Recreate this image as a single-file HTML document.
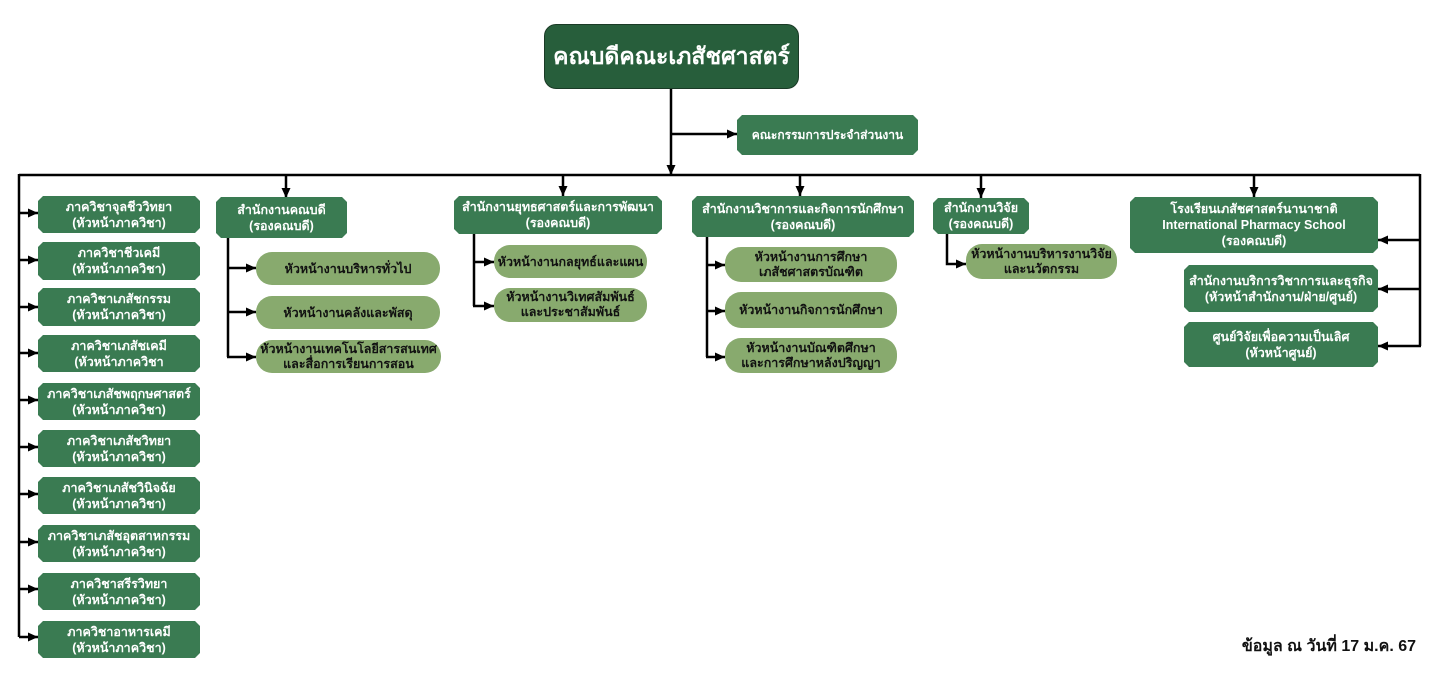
<!DOCTYPE html>
<html>
<head>
<meta charset="utf-8">
<style>
  html,body{margin:0;padding:0;background:#fff;}
  body{width:1440px;height:678px;position:relative;overflow:hidden;font-family:"Liberation Sans","DejaVu Sans",sans-serif;}
  .b{position:absolute;display:flex;align-items:center;justify-content:center;text-align:center;color:#fff;font-weight:bold;font-size:12.5px;line-height:16px;box-sizing:border-box;
     background:#3a7b52;
     clip-path:polygon(5px 0,calc(100% - 5px) 0,100% 5px,100% calc(100% - 5px),calc(100% - 5px) 100%,5px 100%,0 calc(100% - 5px),0 5px);}
  .p{position:absolute;display:flex;align-items:center;justify-content:center;text-align:center;color:#111;font-weight:bold;font-size:12.5px;line-height:16px;box-sizing:border-box;background:#88aa6e;border-radius:16px;}
  svg{position:absolute;left:0;top:0;}
</style>
</head>
<body>
<svg width="1440" height="678" viewBox="0 0 1440 678">
  <defs>
    <marker id="a" markerUnits="userSpaceOnUse" markerWidth="11" markerHeight="11" refX="10" refY="5.5" orient="auto">
      <path d="M0,1 L10,5.5 L0,10 Z" fill="#000"/>
    </marker>
  </defs>
  <g stroke="#000" stroke-width="2.5" fill="none">
    <path d="M671 89 V175" marker-end="url(#a)"/>
    <path d="M671 134 H737" marker-end="url(#a)"/>
    <path d="M19 175 H1420"/>
    <path d="M19 174 V637"/>
    <path d="M19 213 H38" marker-end="url(#a)"/>
    <path d="M19 260 H38" marker-end="url(#a)"/>
    <path d="M19 307 H38" marker-end="url(#a)"/>
    <path d="M19 353 H38" marker-end="url(#a)"/>
    <path d="M19 400 H38" marker-end="url(#a)"/>
    <path d="M19 447 H38" marker-end="url(#a)"/>
    <path d="M19 494 H38" marker-end="url(#a)"/>
    <path d="M19 542 H38" marker-end="url(#a)"/>
    <path d="M19 589 H38" marker-end="url(#a)"/>
    <path d="M19 637 H38" marker-end="url(#a)"/>
    <path d="M286 175 V198" marker-end="url(#a)"/>
    <path d="M563 175 V196" marker-end="url(#a)"/>
    <path d="M800 175 V196" marker-end="url(#a)"/>
    <path d="M981 175 V198" marker-end="url(#a)"/>
    <path d="M1254 175 V197" marker-end="url(#a)"/>
    <path d="M228 238 V357"/>
    <path d="M227 268 H256" marker-end="url(#a)"/>
    <path d="M227 312 H256" marker-end="url(#a)"/>
    <path d="M227 357 H256" marker-end="url(#a)"/>
    <path d="M474 234 V306"/>
    <path d="M473 262 H494" marker-end="url(#a)"/>
    <path d="M473 306 H494" marker-end="url(#a)"/>
    <path d="M707 237 V357"/>
    <path d="M706 265 H725" marker-end="url(#a)"/>
    <path d="M706 311 H725" marker-end="url(#a)"/>
    <path d="M706 357 H725" marker-end="url(#a)"/>
    <path d="M947 234 V264 H966" marker-end="url(#a)"/>
    <path d="M1420 174 V346"/>
    <path d="M1421 240 H1378" marker-end="url(#a)"/>
    <path d="M1421 289 H1378" marker-end="url(#a)"/>
    <path d="M1421 346 H1378" marker-end="url(#a)"/>
  </g>
</svg>

<div style="position:absolute;left:544px;top:24px;width:255px;height:65px;background:#275e3b;border:1.5px solid #1a3a26;border-radius:12px;box-sizing:border-box;display:flex;align-items:center;justify-content:center;color:#fff;font-weight:bold;font-size:23px;">คณบดีคณะเภสัชศาสตร์</div>

<div class="b" style="left:737px;top:115px;width:181px;height:40px;font-size:12px;">คณะกรรมการประจำส่วนงาน</div>

<!-- left column -->
<div class="b" style="left:38px;top:196px;width:162px;height:37px;">ภาควิชาจุลชีววิทยา<br>(หัวหน้าภาควิชา)</div>
<div class="b" style="left:38px;top:242px;width:162px;height:38px;">ภาควิชาชีวเคมี<br>(หัวหน้าภาควิชา)</div>
<div class="b" style="left:38px;top:288px;width:162px;height:38px;">ภาควิชาเภสัชกรรม<br>(หัวหน้าภาควิชา)</div>
<div class="b" style="left:38px;top:335px;width:162px;height:37px;">ภาควิชาเภสัชเคมี<br>(หัวหน้าภาควิชา</div>
<div class="b" style="left:38px;top:383px;width:162px;height:37px;">ภาควิชาเภสัชพฤกษศาสตร์<br>(หัวหน้าภาควิชา)</div>
<div class="b" style="left:38px;top:430px;width:162px;height:37px;">ภาควิชาเภสัชวิทยา<br>(หัวหน้าภาควิชา)</div>
<div class="b" style="left:38px;top:477px;width:162px;height:37px;">ภาควิชาเภสัชวินิจฉัย<br>(หัวหน้าภาควิชา)</div>
<div class="b" style="left:38px;top:525px;width:162px;height:37px;">ภาควิชาเภสัชอุตสาหกรรม<br>(หัวหน้าภาควิชา)</div>
<div class="b" style="left:38px;top:573px;width:162px;height:37px;">ภาควิชาสรีรวิทยา<br>(หัวหน้าภาควิชา)</div>
<div class="b" style="left:38px;top:621px;width:162px;height:37px;">ภาควิชาอาหารเคมี<br>(หัวหน้าภาควิชา)</div>

<!-- office 1 -->
<div class="b" style="left:216px;top:197px;width:131px;height:41px;">สำนักงานคณบดี<br>(รองคณบดี)</div>
<div class="p" style="left:256px;top:252px;width:184px;height:33px;">หัวหน้างานบริหารทั่วไป</div>
<div class="p" style="left:256px;top:296px;width:184px;height:33px;">หัวหน้างานคลังและพัสดุ</div>
<div class="p" style="left:256px;top:340px;width:185px;height:33px;line-height:15px;">หัวหน้างานเทคโนโลยีสารสนเทศ<br>และสื่อการเรียนการสอน</div>

<!-- office 2 -->
<div class="b" style="left:454px;top:196px;width:208px;height:38px;">สำนักงานยุทธศาสตร์และการพัฒนา<br>(รองคณบดี)</div>
<div class="p" style="left:494px;top:245px;width:153px;height:33px;">หัวหน้างานกลยุทธ์และแผน</div>
<div class="p" style="left:494px;top:288px;width:153px;height:34px;line-height:15px;">หัวหน้างานวิเทศสัมพันธ์<br>และประชาสัมพันธ์</div>

<!-- office 3 -->
<div class="b" style="left:692px;top:196px;width:222px;height:41px;">สำนักงานวิชาการและกิจการนักศึกษา<br>(รองคณบดี)</div>
<div class="p" style="left:725px;top:247px;width:172px;height:35px;line-height:15px;">หัวหน้างานการศึกษา<br>เภสัชศาสตรบัณฑิต</div>
<div class="p" style="left:725px;top:292px;width:172px;height:36px;">หัวหน้างานกิจการนักศึกษา</div>
<div class="p" style="left:725px;top:338px;width:172px;height:35px;line-height:15px;">หัวหน้างานบัณฑิตศึกษา<br>และการศึกษาหลังปริญญา</div>

<!-- office 4 -->
<div class="b" style="left:933px;top:198px;width:96px;height:36px;">สำนักงานวิจัย<br>(รองคณบดี)</div>
<div class="p" style="left:966px;top:244px;width:151px;height:35px;line-height:15px;">หัวหน้างานบริหารงานวิจัย<br>และนวัตกรรม</div>

<!-- office 5 -->
<div class="b" style="left:1130px;top:197px;width:248px;height:56px;">โรงเรียนเภสัชศาสตร์นานาชาติ<br>International Pharmacy School<br>(รองคณบดี)</div>
<div class="b" style="left:1184px;top:265px;width:194px;height:47px;">สำนักงานบริการวิชาการและธุรกิจ<br>(หัวหน้าสำนักงาน/ฝ่าย/ศูนย์)</div>
<div class="b" style="left:1184px;top:322px;width:194px;height:45px;">ศูนย์วิจัยเพื่อความเป็นเลิศ<br>(หัวหน้าศูนย์)</div>

<div style="position:absolute;left:1200px;top:634px;width:216px;text-align:right;font-weight:bold;font-size:16px;color:#111;">ข้อมูล ณ วันที่ 17 ม.ค. 67</div>
</body>
</html>
